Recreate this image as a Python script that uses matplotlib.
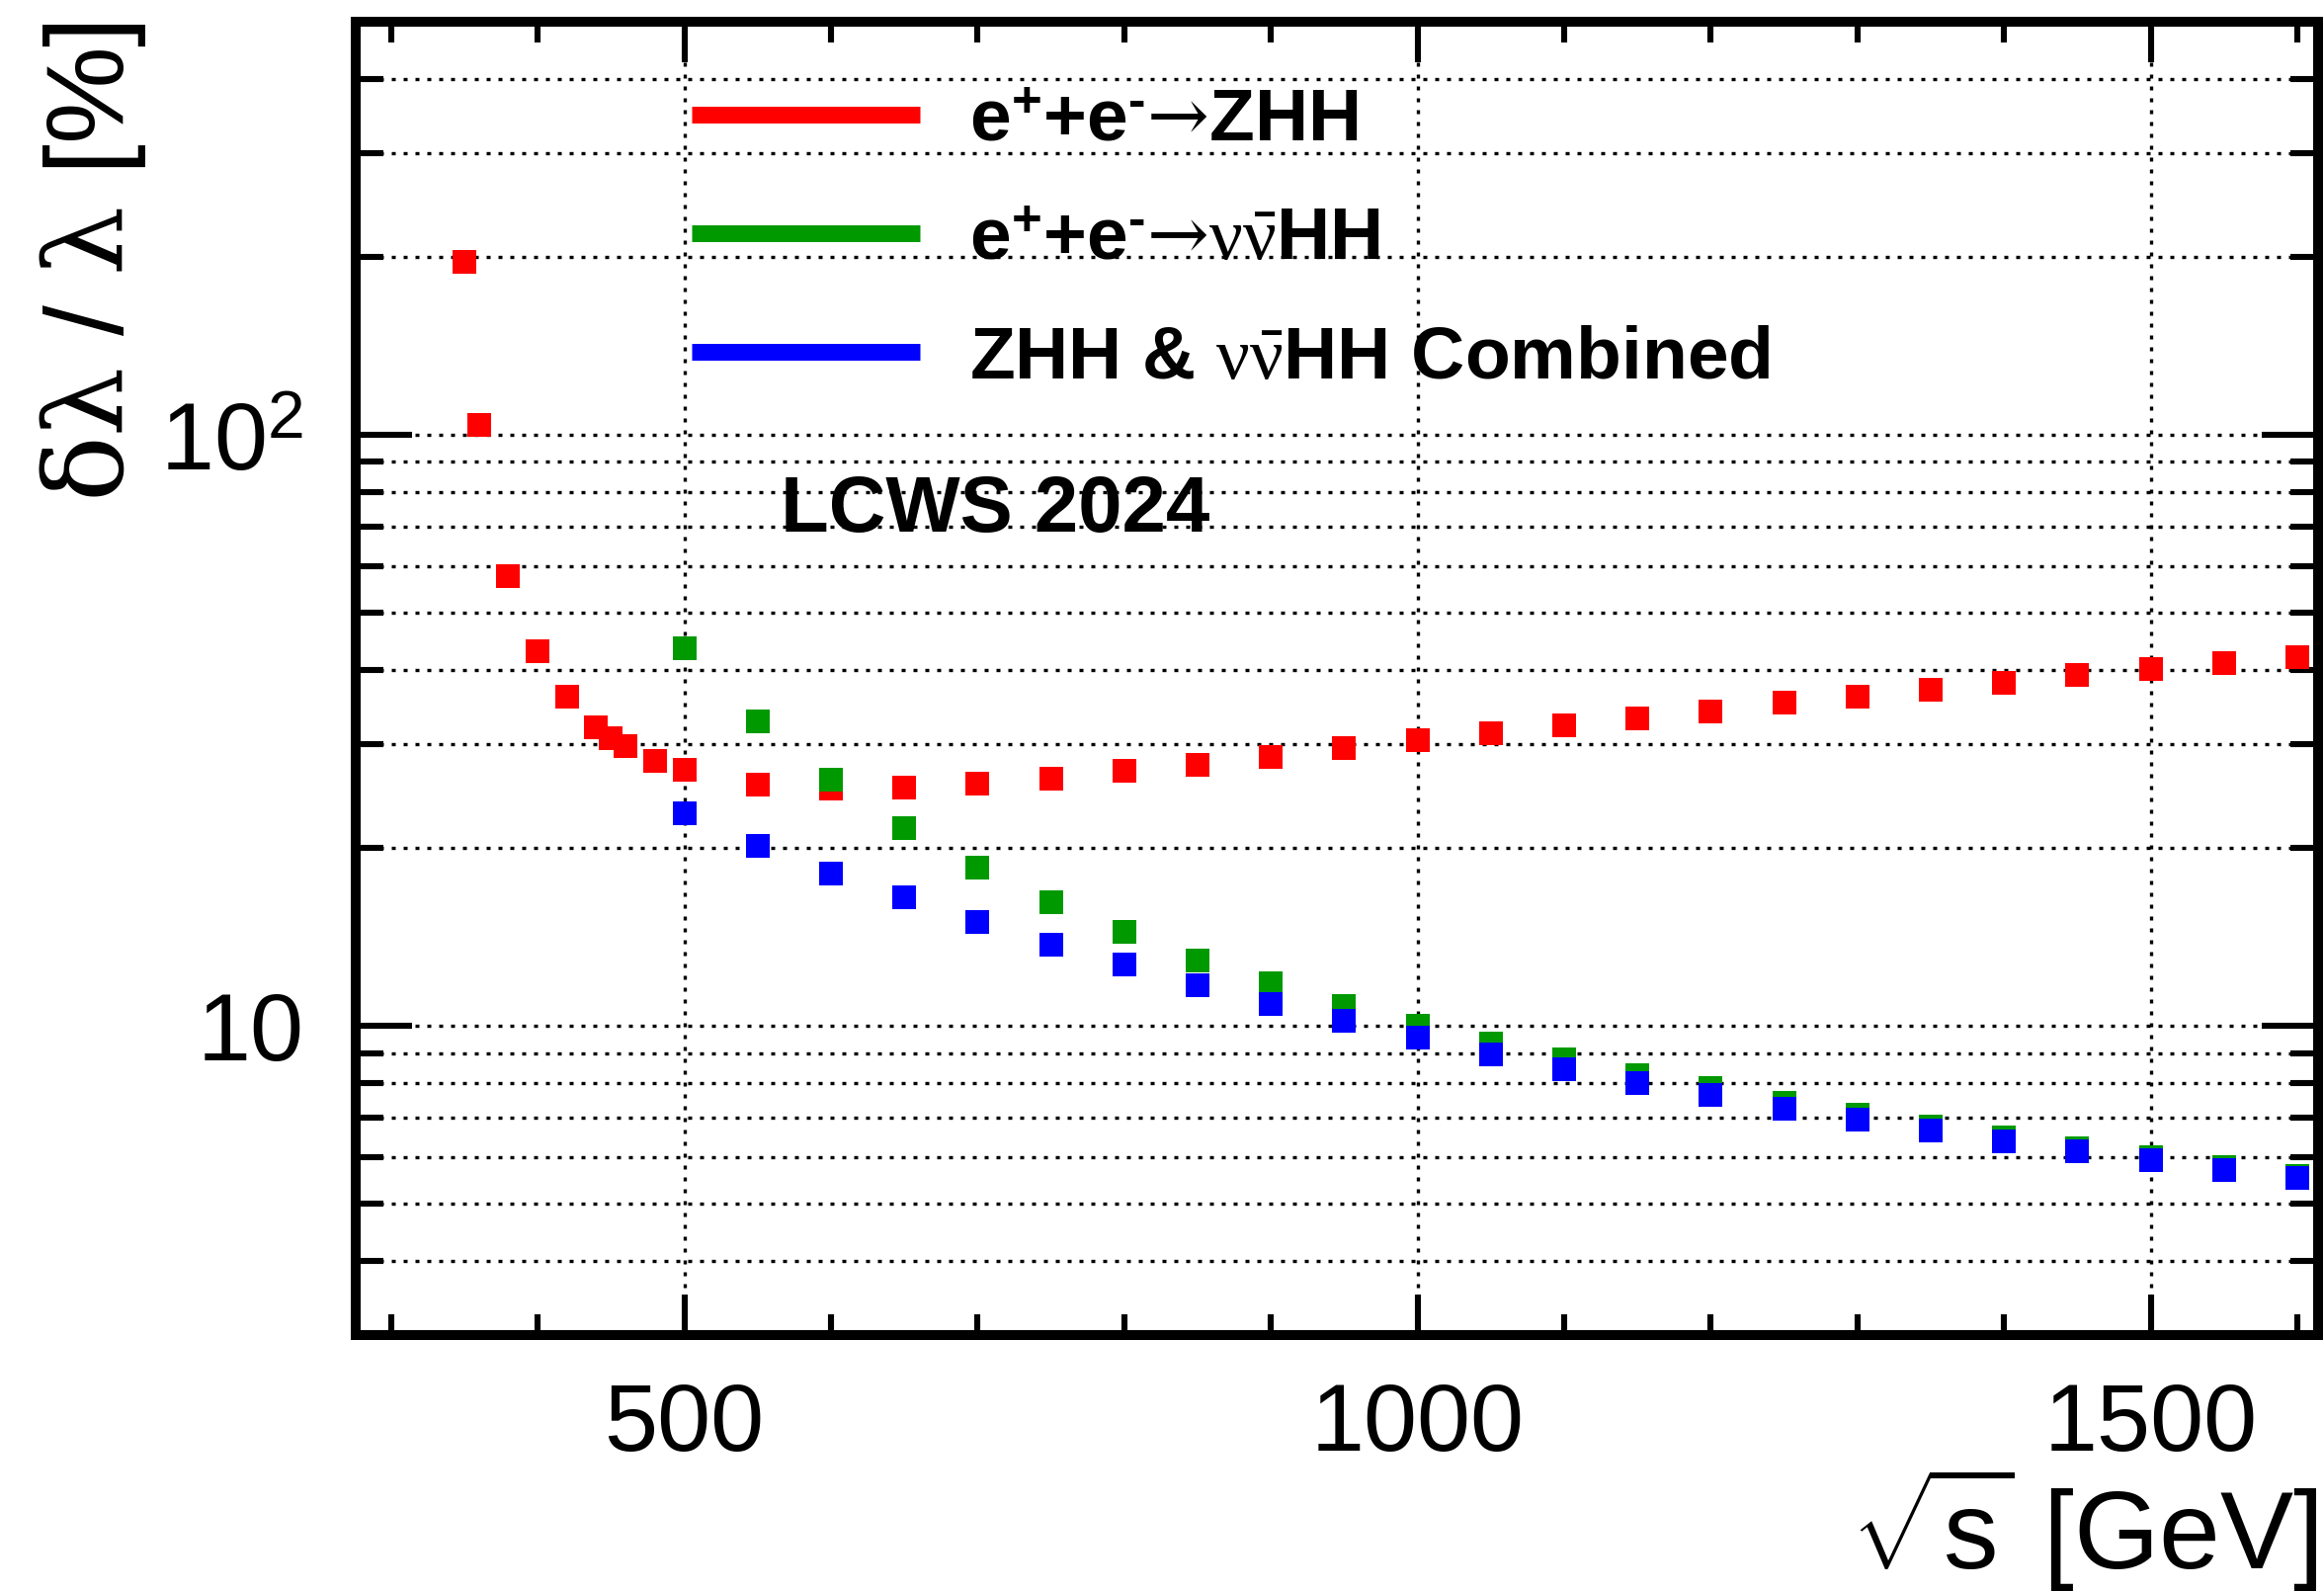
import matplotlib
matplotlib.use("Agg")
import matplotlib.pyplot as plt
from matplotlib.ticker import MultipleLocator, LogLocator, FixedLocator, FuncFormatter, NullFormatter
from matplotlib.lines import Line2D

# Centre-of-mass energies [GeV]
energy_zhh = [350, 360, 380, 400, 420, 440, 450, 460, 480, 500,
              550, 600, 650, 700, 750, 800, 850, 900, 950, 1000,
              1050, 1100, 1150, 1200, 1250, 1300, 1350, 1400, 1450, 1500,
              1550, 1600]
energy_vvhh = [500, 550, 600, 650, 700, 750, 800, 850, 900, 950,
               1000, 1050, 1100, 1150, 1200, 1250, 1300, 1350, 1400, 1450,
               1500, 1550, 1600]

# Relative precision on the Higgs self-coupling [%]
dl_zhh = [196, 104, 57.6, 43.0, 36.0, 32.0, 30.7, 29.7, 28.1, 27.1,
          25.6, 25.2, 25.3, 25.7, 26.2, 27.0, 27.7, 28.5, 29.5, 30.4,
          31.3, 32.2, 33.2, 34.1, 35.2, 36.1, 37.1, 38.1, 39.2, 40.1,
          41.1, 42.1]
dl_vvhh = [43.5, 32.7, 26.1, 21.6, 18.5, 16.2, 14.4, 12.9, 11.8, 10.8,
           10.0, 9.35, 8.78, 8.26, 7.84, 7.42, 7.09, 6.77, 6.49, 6.22,
           6.00, 5.78, 5.58]
dl_comb = [22.9, 20.2, 18.1, 16.5, 15.0, 13.7, 12.7, 11.7, 10.9, 10.2,
           9.54, 8.96, 8.46, 8.01, 7.63, 7.25, 6.95, 6.66, 6.39, 6.14,
           5.93, 5.71, 5.53]

labels = [r"e$^{\mathbf{+}}$+e$^{\mathbf{‐}}$$\mathsf{→}$ZHH",
          r"e$^{\mathbf{+}}$+e$^{\mathbf{‐}}$$\mathsf{→}$$\nu\bar{\nu}$HH",
          r"ZHH & $\nu\bar{\nu}$HH Combined"]
colors = ["#ff0000", "#009900", "#0000ff"]

plt.rcParams["mathtext.fontset"] = "custom"
plt.rcParams["mathtext.rm"] = "Liberation Sans"
plt.rcParams["mathtext.bf"] = "Liberation Sans:bold"
plt.rcParams["mathtext.it"] = "Liberation Serif"
plt.rcParams["mathtext.sf"] = "DejaVu Serif"
plt.rcParams["font.family"] = ["Liberation Sans", "DejaVu Sans"]

fig = plt.figure(figsize=(11.76, 8.05), dpi=200)
ax = fig.add_axes([0.1531, 0.1609, 0.9974 - 0.1531, 0.9863 - 0.1609])

ms = 8.3
ax.plot(energy_zhh, dl_zhh, ls="none", marker="s", ms=ms, mew=0, color=colors[0], zorder=3)
ax.plot(energy_vvhh, dl_vvhh, ls="none", marker="s", ms=ms, mew=0, color=colors[1], zorder=4)
ax.plot(energy_vvhh, dl_comb, ls="none", marker="s", ms=ms, mew=0, color=colors[2], zorder=5)

ax.set_yscale("log")
ax.set_xlim(276, 1614)
ax.set_ylim(3, 500)

ax.xaxis.set_major_locator(MultipleLocator(500))
ax.xaxis.set_minor_locator(MultipleLocator(100))
ax.yaxis.set_major_locator(FixedLocator([10, 100]))
ax.yaxis.set_minor_locator(LogLocator(base=10, subs=range(2, 10)))
ax.yaxis.set_minor_formatter(NullFormatter())
ax.yaxis.set_major_formatter(FuncFormatter(
    lambda v, p: "10" if abs(v - 10) < 1e-6 else r"$10^{2}$"))

for side in ax.spines.values():
    side.set_linewidth(3.6)

ax.tick_params(axis="both", which="both", direction="in", top=True, right=True,
               width=2.2, labelsize=35)
ax.tick_params(axis="y", which="major", length=20.5, pad=19)
ax.tick_params(axis="y", which="minor", length=10)
ax.tick_params(axis="x", which="major", length=14.8, pad=17)
ax.tick_params(axis="x", which="minor", length=7.4)

grid_style = dict(color="black", linestyle=(0, (1.2, 2.4)), linewidth=1.2)
ax.grid(True, axis="y", which="both", **grid_style)
ax.grid(True, axis="x", which="major", **grid_style)
ax.set_axisbelow(True)

ax.set_xlabel(r"$\sqrt{\mathrm{s}}$ [GeV]", fontsize=40, loc="right")
ax.xaxis.set_label_coords(1.0, -0.0985)
ax.set_ylabel(r"$\mathsf{\delta\lambda}$ / $\mathsf{\lambda}$ [%]", fontsize=40, loc="top")
ax.yaxis.set_label_coords(-0.1057, 1.0)

handles = [Line2D([], [], color=c, lw=6.1, solid_capstyle="butt") for c in colors]
ax.legend(handles, labels, loc="upper left", bbox_to_anchor=(0.1712, 0.950),
          frameon=False, borderpad=0, borderaxespad=0, handlelength=3.08,
          handletextpad=0.67, labelspacing=0.68,
          prop=dict(family="Liberation Sans", weight="bold", size=27))

ax.text(0.2165, 0.6117, "LCWS 2024", transform=ax.transAxes, fontsize=28.7,
        fontweight="bold", family="Liberation Sans", va="baseline", ha="left")

fig.savefig("out.png", dpi=200)
